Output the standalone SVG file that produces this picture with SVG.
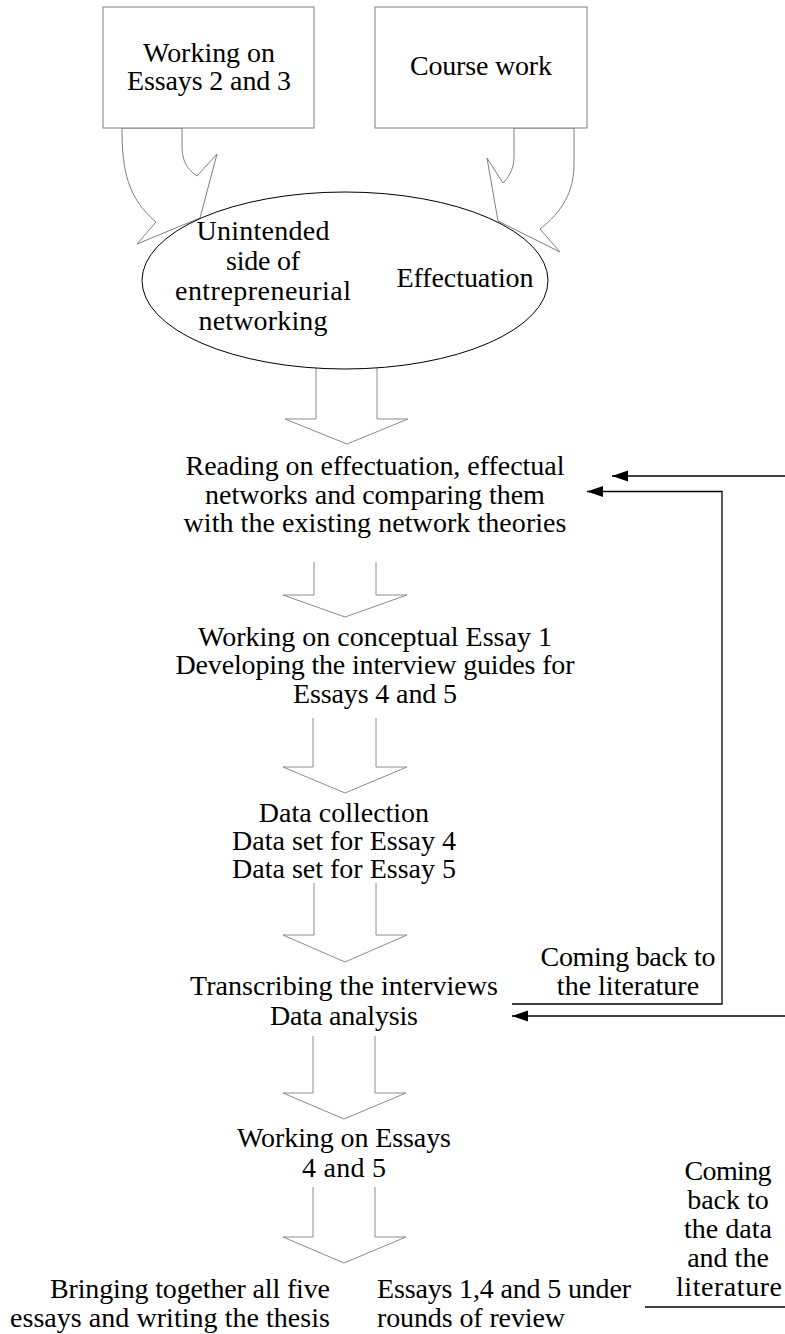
<svg xmlns="http://www.w3.org/2000/svg" width="785" height="1334" viewBox="0 0 785 1334">
<defs>
<style>
.box{fill:#fff;stroke:#7f7f7f;stroke-width:1}
.barrow{fill:#fff;stroke:#8c8c8c;stroke-width:1}
.carrow{fill:#fff;stroke:#7f7f7f;stroke-width:1}
.ell{fill:#fff;stroke:#000;stroke-width:1}
.conn{fill:none;stroke:#000;stroke-width:1.3}
text{font-family:"Liberation Serif","Times New Roman",serif;font-size:28px;fill:#000}
.c{text-anchor:middle}
</style>
<marker id="ah" markerUnits="userSpaceOnUse" markerWidth="17" markerHeight="12" refX="16" refY="5.5" orient="auto">
<path d="M0,0 L16,5.5 L0,11 z" fill="#000"/>
</marker>
</defs>
<rect width="785" height="1334" fill="#fff"/>

<g id="curved-arrows">
<path class="carrow" d="M122,128 C122,172 128,198 156,222 L137,244 L200,218 L217,154 L197,176 C185,168 182,158 182,146 L182,128 Z"/>
<path class="carrow" d="M574,128 L574,164 C574,192 562,212 540,229 L560,252 L498,221 L487,158 L503,183 C511,175 514,166 514,156 L514,128 Z"/>
</g>

<g id="node-essays23">
<rect class="box" x="103" y="7" width="211" height="121"/>
<text class="c" x="209" y="62" textLength="132">Working on</text>
<text class="c" x="209" y="90" textLength="164">Essays 2 and 3</text>
</g>

<g id="node-coursework">
<rect class="box" x="375" y="7" width="212" height="121"/>
<text class="c" x="481" y="75" textLength="142">Course work</text>
</g>

<g id="block-arrows">
<path class="barrow" d="M316,355 L316,419 L285,419 L347,444 L408,419 L377,419 L377,355"/>
<path class="barrow" d="M314,562 L314,595 L283,595 L345,617 L407,595 L376,595 L376,562"/>
<path class="barrow" d="M313,718 L313,767 L283,767 L345,793 L407,767 L376,767 L376,718"/>
<path class="barrow" d="M314,883 L314,935 L283,935 L345,962 L407,935 L376,935 L376,883"/>
<path class="barrow" d="M313,1036 L313,1093 L283,1093 L344,1119 L406,1093 L375,1093 L375,1036"/>
<path class="barrow" d="M313,1187 L313,1237 L283,1237 L344,1263 L406,1237 L375,1237 L375,1187"/>
</g>

<g id="node-ellipse">
<ellipse class="ell" cx="345" cy="280.5" rx="203" ry="88.5"/>
<text class="c" x="263" y="240" textLength="133">Unintended</text>
<text class="c" x="263" y="270" textLength="74">side of</text>
<text class="c" x="263" y="300" textLength="176">entrepreneurial</text>
<text class="c" x="263" y="330" textLength="129">networking</text>
<text class="c" x="465" y="287" textLength="137">Effectuation</text>
</g>

<g id="node-reading">
<text class="c" x="375" y="475" textLength="379">Reading on effectuation, effectual</text>
<text class="c" x="375" y="504">networks and comparing them</text>
<text class="c" x="375" y="532" textLength="383">with the existing network theories</text>
</g>

<g id="node-essay1">
<text class="c" x="375" y="646">Working on conceptual Essay 1</text>
<text class="c" x="375" y="674" textLength="399">Developing the interview guides for</text>
<text class="c" x="375" y="703" textLength="164">Essays 4 and 5</text>
</g>

<g id="node-datacollection">
<text class="c" x="344" y="822">Data collection</text>
<text class="c" x="344" y="850">Data set for Essay 4</text>
<text class="c" x="344" y="878">Data set for Essay 5</text>
</g>

<g id="node-transcribing">
<text class="c" x="344" y="995" textLength="308">Transcribing the interviews</text>
<text class="c" x="344" y="1025" textLength="148">Data analysis</text>
</g>

<g id="node-essays45">
<text class="c" x="344" y="1147" textLength="214">Working on Essays</text>
<text class="c" x="344" y="1177" textLength="84">4 and 5</text>
</g>

<g id="node-thesis">
<text x="50" y="1298" textLength="280">Bringing together all five</text>
<text x="10" y="1327" textLength="320">essays and writing the thesis</text>
</g>

<g id="node-review">
<text x="377" y="1298" textLength="254">Essays 1,4 and 5 under</text>
<text x="377" y="1327" textLength="188">rounds of review</text>
</g>

<g id="label-literature">
<text class="c" x="628" y="966" textLength="175">Coming back to</text>
<text class="c" x="628" y="995">the literature</text>
</g>

<g id="label-data-literature">
<text class="c" x="728" y="1180" textLength="87">Coming</text>
<text class="c" x="728" y="1209">back to</text>
<text class="c" x="728" y="1238">the data</text>
<text class="c" x="728" y="1267">and the</text>
<text class="c" x="729" y="1296" textLength="106">literature</text>
</g>

<g id="connectors">
<line class="conn" x1="785" y1="476" x2="612" y2="476" marker-end="url(#ah)"/>
<polyline class="conn" points="512,1004 722,1004 722,491.5 587,491.5" marker-end="url(#ah)"/>
<line class="conn" x1="785" y1="1016" x2="512" y2="1016" marker-end="url(#ah)"/>
<line class="conn" x1="645" y1="1307" x2="785" y2="1307"/>
</g>
</svg>
